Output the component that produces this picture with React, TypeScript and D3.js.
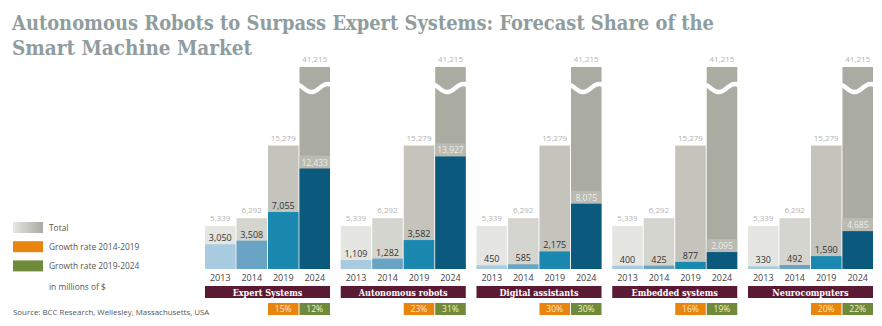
import React from "react";
import * as d3 from "d3";

const panelNames = ["Expert Systems", "Autonomous robots", "Digital assistants", "Embedded systems", "Neurocomputers"];
const years = ["2013", "2014", "2019", "2024"];
const totals = [5339, 6292, 15279, 41215];
const expertSystems = [3050, 3508, 7055, 12433];
const autonomousRobots = [1109, 1282, 3582, 13927];
const digitalAssistants = [450, 585, 2175, 8075];
const embeddedSystems = [400, 425, 877, 2095];
const neurocomputers = [330, 492, 1590, 4685];
const growth2014_2019 = [15, 23, 30, 16, 20];
const growth2019_2024 = [12, 31, 30, 19, 22];
const legendLabels = ["Total", "Growth rate 2014-2019", "Growth rate 2019-2024"];

const segmentValues = [expertSystems, autonomousRobots, digitalAssistants, embeddedSystems, neurocomputers];

const W = 882;
const H = 326;
const BASE = 269;
const SANS = "'Open Sans', 'Noto Sans', sans-serif";
const SERIF = "'DejaVu Serif Condensed', 'DejaVu Serif', serif";

const grayColors = ["#e5e5e2", "#d5d5cf", "#c4c4bc", "#aaaba1"];
const blueColors = ["#a8cbdf", "#6aa4c4", "#1b89af", "#0b5a7e"];
const fmt = d3.format(",");

export default function App() {
  const xPanel = d3.scaleBand<string>().domain(panelNames).range([205, 873]).paddingInner(0.079).paddingOuter(0);
  const y = d3.scaleLinear().domain([0, 25000]).range([BASE, 67]).clamp(true);
  const xBar = d3.scaleBand<string>().domain(years).range([0, xPanel.bandwidth()]).paddingInner(0.03).paddingOuter(0);
  const bw = xBar.bandwidth();

  const waveLine = d3.line<[number, number]>().curve(d3.curveBasis);

  return (
    <svg width={W} height={H} style={{ position: "absolute", left: 0, top: 0, display: "block", background: "#fff" }}>
      <text x={12} y={30} fontFamily={SERIF} fontStretch="condensed" fontWeight={700} fontSize={21} fill="#909d9e" textLength={702} lengthAdjust="spacingAndGlyphs">
        Autonomous Robots to Surpass Expert Systems: Forecast Share of the
      </text>
      <text x={12} y={55} fontFamily={SERIF} fontStretch="condensed" fontWeight={700} fontSize={21} fill="#909d9e" textLength={240} lengthAdjust="spacingAndGlyphs">
        Smart Machine Market
      </text>

      <defs>
        <linearGradient id="totGrad" x1="0" x2="1" y1="0" y2="0">
          <stop offset="0" stopColor="#e6e6e3" />
          <stop offset="1" stopColor="#a9aaa0" />
        </linearGradient>
      </defs>
      {legendLabels.map((lab, i) => (
        <g key={lab}>
          <rect x={13} y={222 + i * 19.2} width={30} height={11} fill={i === 0 ? "url(#totGrad)" : i === 1 ? "#e8850f" : "#6f8a3a"} />
          <text x={49} y={231 + i * 19.2} fontFamily={SANS} fontSize={8.4} fill="#555">{lab}</text>
        </g>
      ))}
      <text x={49} y={290} fontFamily={SANS} fontSize={8.4} fill="#555">in millions of $</text>
      <text x={13} y={315} fontFamily={SANS} fontSize={7.9} fill="#555">Source: BCC Research, Wellesley, Massachusetts, USA</text>

      {panelNames.map((name, p) => {
        const px = xPanel(name)!;
        const vals = segmentValues[p];
        return (
          <g key={name} transform={`translate(${px},0)`}>
            {years.map((yr, i) => {
              const bx = xBar(yr)!;
              const tTop = y(totals[i]);
              const sTop = y(vals[i]);
              const cx = bx + bw / 2;
              const broken = totals[i] > y.domain()[1];
              const wc = tTop + 21;
              const pts: [number, number][] = d3.range(0, 1.0001, 0.05).map((t) => [bx - 1 + t * (bw + 2), wc + 4 * Math.sin(2 * Math.PI * (t - 0.15))]);
              return (
                <g key={yr}>
                  <rect x={bx} y={tTop} width={bw} height={BASE - tTop} fill={grayColors[i]} />
                  {i === 3 && <rect x={bx} y={sTop - 13} width={bw} height={13} fill="#babbb2" />}
                  {broken && <path d={waveLine(pts)!} fill="none" stroke="#fff" strokeWidth={4.5} />}
                  <rect x={bx} y={sTop} width={bw} height={BASE - sTop} fill={blueColors[i]} />
                  <text x={cx} y={tTop - 5} textAnchor="middle" fontFamily={SANS} fontSize={8} fill="#b3b3b3">{fmt(totals[i])}</text>
                  <text x={cx} y={sTop - 3} textAnchor="middle" fontFamily={SANS} fontSize={i === 3 ? 8.5 : 9} fill={i === 3 ? "#eeeeea" : "#333"}>{fmt(vals[i])}</text>
                  <text x={cx} y={281} textAnchor="middle" fontFamily={SANS} fontSize={9} fill="#444">{yr}</text>
                </g>
              );
            })}
            <rect x={0} y={286} width={xPanel.bandwidth()} height={12} fill="#5b1a34" />
            <text x={xPanel.bandwidth() / 2} y={295.5} textAnchor="middle" fontFamily={SERIF} fontStretch="condensed" fontWeight={700} fontSize={9} fill="#fff">{name}</text>
            <rect x={xBar("2019")!} y={303} width={bw} height={12} fill="#e8850f" />
            <rect x={xBar("2024")!} y={303} width={bw} height={12} fill="#6f8a3a" />
            <text x={xBar("2019")! + bw / 2} y={312} textAnchor="middle" fontFamily={SANS} fontSize={8.5} fill="#fbe7c6">{growth2014_2019[p]}%</text>
            <text x={xBar("2024")! + bw / 2} y={312} textAnchor="middle" fontFamily={SANS} fontSize={8.5} fill="#eef0d8">{growth2019_2024[p]}%</text>
          </g>
        );
      })}
    </svg>
  );
}
